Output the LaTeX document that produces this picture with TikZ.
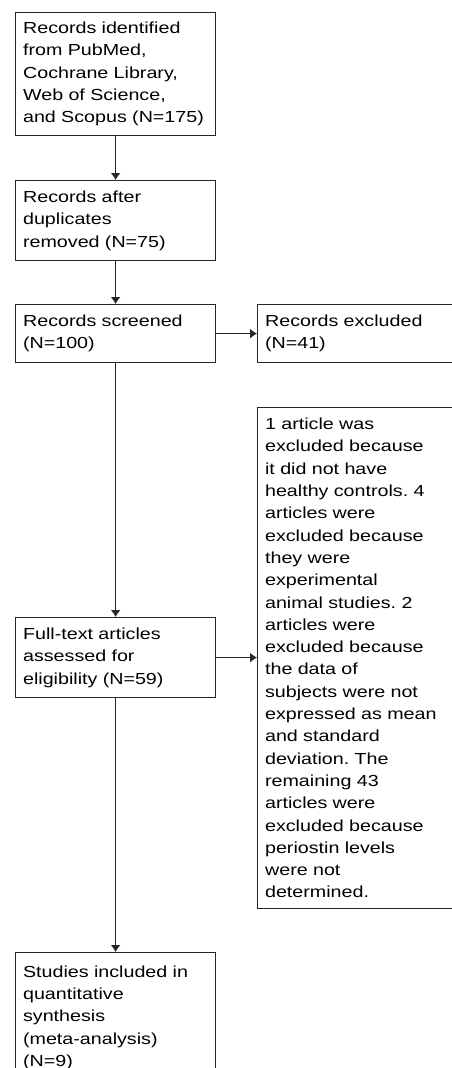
\documentclass[tikz,border=0pt]{standalone}
\usepackage{fontspec}
\setmainfont{Liberation Sans}[FakeStretch=1.23]
\usetikzlibrary{arrows.meta}
\frenchspacing

\begin{document}
\begin{tikzpicture}[x=1pt, y=1pt, line/.style={>={Latex[length=7pt,width=10pt]}},
	stagebox/.style={draw=black!85, line width=1.2pt, anchor=north west, align=left,
		text width=185pt, inner xsep=7.5pt, inner ysep=0pt, minimum width=200pt,
		font=\fontsize{16}{22.3}\selectfont}]

	\useasboundingbox (0, 0) rectangle (452, -1068);

	\node[stagebox, minimum height=123pt] (identified) at (15, -12)
		{Records identified\\from PubMed,\\Cochrane Library,\\Web of Science,\\and Scopus (N=175)};
	\node[stagebox, minimum height=80pt] (dedup) at (15, -180)
		{Records after\\duplicates\\removed (N=75)};
	\node[stagebox, minimum height=58pt] (screened) at (15, -304)
		{Records screened\\(N=100)};
	\node[stagebox, minimum height=58pt] (excluded) at (257, -304)
		{Records excluded\\(N=41)};
	\node[stagebox, minimum height=501pt] (reasons) at (257, -407)
		{1 article was\\excluded because\\it did not have\\healthy controls. 4\\articles were\\excluded because\\they were\\experimental\\animal studies. 2\\articles were\\excluded because\\the data of\\subjects were not\\expressed as mean\\and standard\\deviation. The\\remaining 43\\articles were\\excluded because\\periostin levels\\were not\\determined.};
	\node[stagebox, minimum height=80pt] (fulltext) at (15, -617)
		{Full-text articles\\assessed for\\eligibility (N=59)};
	\node[stagebox, minimum height=130pt] (included) at (15, -952)
		{Studies included in\\quantitative\\synthesis\\(meta-analysis)\\(N=9)};

	\draw[->, line, draw=black!85, line width=1.2pt] (identified) -- (dedup);
	\draw[->, line, draw=black!85, line width=1.2pt] (dedup) -- (screened);
	\draw[->, line, draw=black!85, line width=1.2pt] (screened) -- (fulltext);
	\draw[->, line, draw=black!85, line width=1.2pt] (fulltext) -- (included);
	\draw[->, line, draw=black!85, line width=1.2pt] (screened) -- (excluded);
	\draw[->, line, draw=black!85, line width=1.2pt] (fulltext.east) -- (fulltext.east -| reasons.west);

\end{tikzpicture}
\end{document}
